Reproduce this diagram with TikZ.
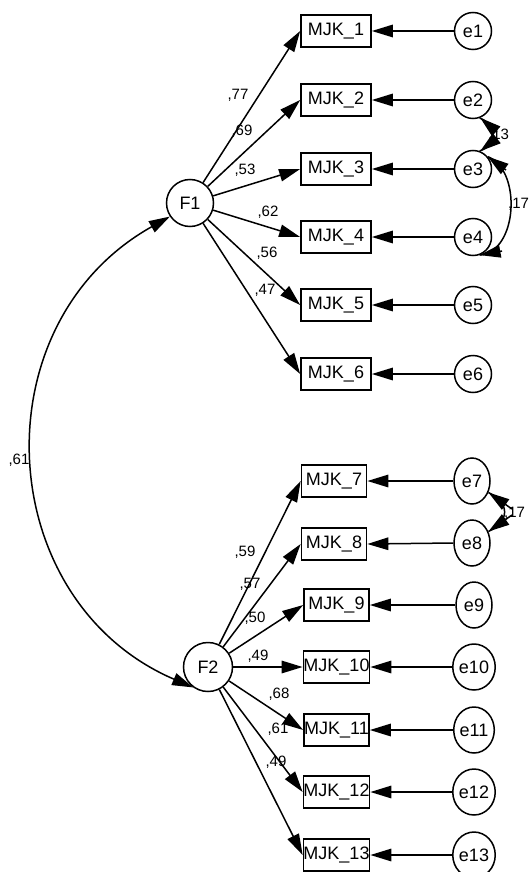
\documentclass[tikz,border=0pt]{standalone}
\usepackage{fontspec}
\setmainfont{Liberation Sans}
\usetikzlibrary{arrows.meta,shapes.geometric}
\begin{document}
\begin{tikzpicture}[x=1pt,y=-1pt,
  txt/.style={font=\fontsize{18}{18}\selectfont},
  obsA/.style={draw, line width=1.7pt, minimum width=70pt, minimum height=32pt, inner sep=0pt, txt},
  obsB/.style={obsA, minimum width=65pt},
  err/.style={circle, draw, line width=1.5pt, minimum size=37pt, inner sep=0pt, txt},
  errE/.style={ellipse, draw, line width=1.5pt, minimum width=36pt, minimum height=46pt, inner sep=0pt, txt},
  lat/.style={circle, draw, line width=1.5pt, minimum size=47pt, inner sep=0pt, txt},
  coef/.style={font=\fontsize{15}{15}\selectfont, inner sep=0pt},
  tip/.tip={Triangle[length=21pt,width=12.5pt]},
  pth/.style={line width=1.5pt, -tip},
  cov/.style={line width=1.5pt, tip-tip},
  arcline/.style={line width=1.5pt}]
\useasboundingbox (0,0) rectangle (528,872);

% latent factors
\node[lat] (F1) at (190,203) {F1};
\node[lat, minimum size=49pt] (F2) at (208,667) {F2};

% observed, top block
\node[obsA] (m1) at (336,31) {MJK\_1};
\node[obsA] (m2) at (336,100) {MJK\_2};
\node[obsA] (m3) at (336,169) {MJK\_3};
\node[obsA] (m4) at (336,237) {MJK\_4};
\node[obsA] (m5) at (336,305) {MJK\_5};
\node[obsA] (m6) at (336,374) {MJK\_6};
% observed, bottom block
\node[obsB] (m7) at (334,481) {MJK\_7};
\node[obsB] (m8) at (334,544) {MJK\_8};
\node[obsB] (m9) at (336.5,605) {MJK\_9};
\node[obsB] (m10) at (336.5,667) {MJK\_10};
\node[obsB] (m11) at (336.5,730) {MJK\_11};
\node[obsB] (m12) at (336.5,792) {MJK\_12};
\node[obsB] (m13) at (336.5,855) {MJK\_13};

% errors
\node[err] (e1) at (473,31) {e1};
\node[err] (e2) at (473,100) {e2};
\node[err] (e3) at (473,169) {e3};
\node[err] (e4) at (473,237) {e4};
\node[err] (e5) at (473,305) {e5};
\node[err] (e6) at (473,374) {e6};
\node[errE] (e7) at (472,481) {e7};
\node[errE] (e8) at (472,543) {e8};
\node[errE] (e9) at (474,605) {e9};
\node[errE] (e10) at (474,667) {e10};
\node[errE] (e11) at (474,730) {e11};
\node[errE] (e12) at (474,792) {e12};
\node[errE] (e13) at (474,855) {e13};

% loadings
\foreach \i in {1,...,6} {\draw[pth] (F1) -- (m\i.west);}
\foreach \i in {7,...,13} {\draw[pth] (F2) -- (m\i.west);}
\foreach \i in {1,...,13} {\draw[pth] (e\i.west) -- (m\i.east);}

% coefficient labels
\node[coef] (l1) at (238,95) {,77};
\node[coef] (l2) at (242,131) {,69};
\node[coef] (l3) at (245,170) {,53};
\node[coef] (l4) at (268,212) {,62};
\node[coef] (l5) at (267,253) {,56};
\node[coef] (l6) at (265,290) {,47};
\node[coef] (l7) at (245,552) {,59};
\node[coef] (l8) at (250,584) {,57};
\node[coef] (l9) at (255,618) {,50};
\node[coef] (l10) at (258,656) {,49};
\node[coef] (l11) at (279,694) {,68};
\node[coef] (l12) at (278,729) {,61};
\node[coef] (l13) at (276,762) {,49};
\node[coef] (lF) at (19,460) {,61};
\node[coef, anchor=west] (c23) at (488,135) {,13};
\node[coef, anchor=west] (c34) at (508,204) {,17};
\node[coef, anchor=west] (c78) at (504,513) {,17};

% covariances
\draw[cov] (F1.214) .. controls (-22,324) and (-8,601) .. (F2.234);

% e2 <-> e3
\draw[arcline] (e2.-70) .. controls (497,124) and (497,146) .. (e3.70);
\coordinate (a2) at (497,132);
\coordinate (a3) at (497,138);
\draw[pth] (a2) -- (e2.-68);
\draw[pth] (a3) -- (e3.68);

% e3 <-> e4
\draw[arcline] (e3.40) .. controls (522,170) and (518,252) .. (e4.-70);
\coordinate (b3) at (506,170);
\coordinate (b4) at (502,251);
\draw[pth] (b3) -- (e3.40);
\draw[pth] (b4) -- (e4.-70);

% e7 <-> e8
\draw[arcline] (e7.-35) .. controls (510,503) and (510,521) .. (e8.35);
\coordinate (c7) at (512,509);
\coordinate (c8) at (512,515);
\draw[pth] (c7) -- (e7.-35);
\draw[pth] (c8) -- (e8.35);
\end{tikzpicture}
\end{document}
